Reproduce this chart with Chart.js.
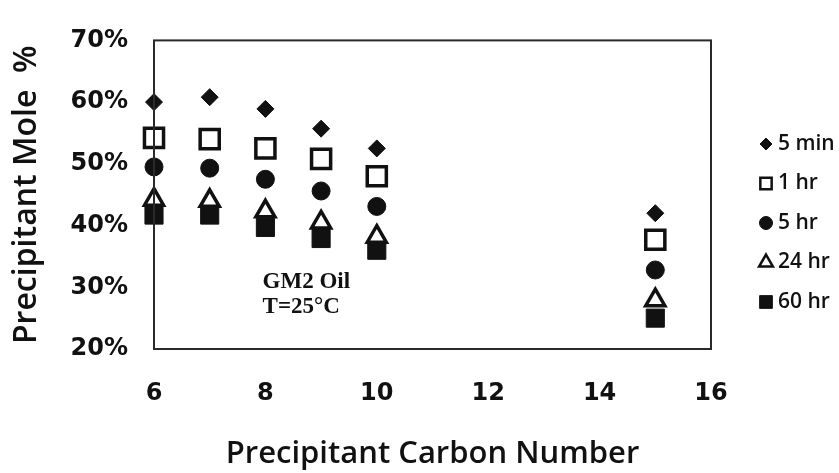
<!DOCTYPE html>
<html><head><meta charset="utf-8">
<script src="https://cdn.jsdelivr.net/npm/chart.js@4.4.1/dist/chart.umd.min.js"></script>
<style>html,body{margin:0;padding:0;background:#fff;} canvas{display:block}</style>
</head><body>
<canvas id="c" width="839" height="473"></canvas>
<script>
// ---- data ----
const carbonNumbers = [6, 7, 8, 9, 10, 15];
const series5min = [60.0, 60.8, 58.9, 55.7, 52.5, 42.0];
const series1hr  = [54.2, 54.0, 52.5, 50.8, 48.0, 37.7];
const series5hr  = [49.5, 49.3, 47.5, 45.6, 43.1, 32.8];
const series24hr = [44.2, 44.0, 42.3, 40.5, 38.2, 27.9];
const series60hr = [41.7, 41.7, 39.7, 37.9, 36.0, 25.0];
const seriesLabels = ['5 min', '1 hr', '5 hr', '24 hr', '60 hr'];
const xTickValues = [6, 8, 10, 12, 14, 16];
const yTickValues = [20, 30, 40, 50, 60, 70];
const yTickLabels = ['20%', '30%', '40%', '50%', '60%', '70%'];
const xAxisTitle = 'Precipitant Carbon Number';
const yAxisTitle = 'Precipitant Mole  %';
const noteLines = ['GM2 Oil', 'T=25°C'];
const noteAnchorX = 7.95;
const noteAnchorY = [30.9, 26.8];

const pts = s => carbonNumbers.map((x, i) => ({x: x, y: s[i]}));

const styles = [
  {pointStyle: 'rectRot',  pointRadius: 8.5, backgroundColor: '#111', borderColor: '#111', borderWidth: 1,
   leg: {r: 6, bw: 1}},
  {pointStyle: 'rect',     pointRadius: 13.5, backgroundColor: '#fff', borderColor: '#111', borderWidth: 3.5,
   leg: {r: 8, bw: 2.5}},
  {pointStyle: 'circle',   pointRadius: 9, backgroundColor: '#111', borderColor: '#111', borderWidth: 1,
   leg: {r: 6.5, bw: 1}},
  {pointStyle: 'triangle', pointRadius: 11, backgroundColor: '#fff', borderColor: '#111', borderWidth: 3.5,
   leg: {r: 8, bw: 2.5}},
  {pointStyle: 'rect',     pointRadius: 12.8, backgroundColor: '#111', borderColor: '#111', borderWidth: 1,
   leg: {r: 9, bw: 1}}
];
const allSeries = [series5min, series1hr, series5hr, series24hr, series60hr];

const datasets = allSeries.map((s, k) => Object.assign({
  label: seriesLabels[k],
  data: pts(s),
  showLine: false,
  clip: false,
  pointHoverRadius: styles[k].pointRadius
}, styles[k]));

const framePlugin = {
  id: 'frame',
  afterDatasetsDraw(chart) {
    const {ctx, chartArea: a} = chart;
    ctx.save();
    ctx.strokeStyle = '#2a2a2a';
    ctx.lineWidth = 2;
    ctx.strokeRect(a.left, a.top, a.right - a.left, a.bottom - a.top);
    ctx.restore();
  }
};

const notePlugin = {
  id: 'note',
  afterDatasetsDraw(chart) {
    const {ctx, scales} = chart;
    ctx.save();
    ctx.fillStyle = '#111';
    ctx.font = 'bold 23px "Liberation Serif", "Times New Roman", serif';
    ctx.textAlign = 'left';
    ctx.textBaseline = 'middle';
    noteLines.forEach((t, i) => {
      ctx.fillText(t, scales.x.getPixelForValue(noteAnchorX), scales.y.getPixelForValue(noteAnchorY[i]));
    });
    ctx.restore();
  }
};

const legendPlugin = {
  id: 'sideLegend',
  afterDraw(chart) {
    const {ctx} = chart;
    const o = chart.options.plugins.sideLegend;
    ctx.save();
    ctx.font = o.font;
    ctx.textAlign = 'left';
    ctx.textBaseline = 'middle';
    chart.data.datasets.forEach((ds, i) => {
      const y = o.top + i * o.spacing;
      ctx.fillStyle = ds.backgroundColor;
      ctx.strokeStyle = ds.borderColor;
      ctx.lineWidth = ds.leg.bw;
      if (Chart.helpers && Chart.helpers.drawPoint) {
        Chart.helpers.drawPoint(ctx, {pointStyle: ds.pointStyle, radius: ds.leg.r, rotation: 0, borderWidth: ds.leg.bw}, o.markerX, y);
      }
      ctx.fillStyle = '#111';
      ctx.fillText(ds.label, o.textX, y);
    });
    ctx.restore();
  }
};

new Chart(document.getElementById('c'), {
  type: 'scatter',
  data: {datasets: datasets},
  plugins: [framePlugin, notePlugin, legendPlugin],
  options: {
    responsive: false,
    animation: false,
    layout: {padding: {top: 23, right: 128, bottom: 0, left: 0}},
    plugins: {
      legend: {display: false},
      tooltip: {enabled: false},
      sideLegend: {top: 144, spacing: 39.5, markerX: 766, textX: 778,
                   font: '600 21px "Open Sans", sans-serif'}
    },
    scales: {
      x: {
        type: 'linear', min: 6, max: 16,
        afterBuildTicks: s => { s.ticks = xTickValues.map(v => ({value: v})); },
        afterFit: s => { s.height = 124; },
        grid: {display: false, drawTicks: false},
        border: {display: false},
        ticks: {padding: 30, color: '#111', font: {family: '"DejaVu Sans", Verdana, sans-serif', size: 24, weight: 'bold'}},
        title: {display: true, text: xAxisTitle, color: '#111', padding: {top: 0, bottom: 0},
                font: {family: '"Open Sans", sans-serif', size: 31, weight: '600'}}
      },
      y: {
        type: 'linear', min: 20, max: 70,
        afterBuildTicks: s => { s.ticks = yTickValues.map(v => ({value: v})); },
        afterFit: s => { s.width = 154; },
        grid: {display: false, drawTicks: false},
        border: {display: false},
        ticks: {padding: 26, color: '#111',
                font: {family: '"DejaVu Sans", Verdana, sans-serif', size: 24, weight: 'bold'},
                callback: v => yTickLabels[yTickValues.indexOf(v)]},
        title: {display: true, text: yAxisTitle, color: '#111', padding: {top: 8, bottom: 0},
                font: {family: '"Open Sans", sans-serif', size: 32, weight: '600'}}
      }
    }
  }
});
</script>
</body></html>
